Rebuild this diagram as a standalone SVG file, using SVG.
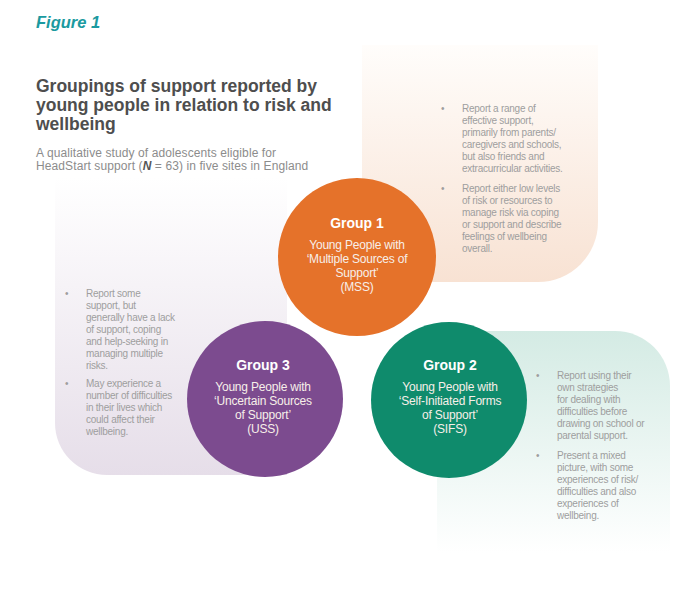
<svg xmlns="http://www.w3.org/2000/svg" width="690" height="610" viewBox="0 0 690 610">
  <style>
    .fig { font-family: "Liberation Sans", Arial, sans-serif; font-weight: bold; font-style: italic; font-size: 16.5px; fill: #1b9aa0; }
    .title { font-family: "Liberation Sans", Arial, sans-serif; font-weight: bold; font-size: 17.5px; fill: #4e4e4e; }
    .sub { font-family: "Liberation Sans", Arial, sans-serif; font-size: 12px; fill: #8c8c8c; letter-spacing: 0.1px; }
    .head { font-family: "Liberation Sans", Arial, sans-serif; font-weight: bold; font-size: 14px; fill: #ffffff; text-anchor: middle; }
    .lbl { font-family: "Liberation Sans", Arial, sans-serif; font-size: 12px; fill: #f7efe9; text-anchor: middle; letter-spacing: -0.2px; }
    .body { font-family: "Liberation Sans", Arial, sans-serif; font-size: 10px; fill: #9e9e9e; letter-spacing: -0.25px; }
  </style>
  <defs>
    <linearGradient id="gPurple" x1="0" y1="0" x2="0" y2="1">
      <stop offset="0" stop-color="#ffffff"/>
      <stop offset="1" stop-color="#e6dee9"/>
    </linearGradient>
    <linearGradient id="gPeach" x1="0" y1="0" x2="0" y2="1">
      <stop offset="0" stop-color="#fffdfb"/>
      <stop offset="1" stop-color="#f8e2d3"/>
    </linearGradient>
    <linearGradient id="gGreen" x1="0" y1="0" x2="0" y2="1">
      <stop offset="0" stop-color="#d4ebe4"/>
      <stop offset="0.92" stop-color="#ffffff"/>
      <stop offset="1" stop-color="#ffffff"/>
    </linearGradient>
  </defs>
  <rect width="690" height="610" fill="#ffffff"/>

  <text class="fig" x="36" y="28">Figure 1</text>
  <text class="title" x="36" y="92">Groupings of support reported by</text>
  <text class="title" x="36" y="111">young people in relation to risk and</text>
  <text class="title" x="36" y="130">wellbeing</text>
  <text class="sub" x="36" y="157">A qualitative study of adolescents eligible for</text>
  <text class="sub" x="36" y="170">HeadStart support (<tspan font-weight="bold" font-style="italic" fill="#555555">N</tspan> = 63) in five sites in England</text>

  <g id="panel-uss">
    <path d="M55,177 H287 V475 H107 A52,52 0 0 1 55,423 Z" fill="url(#gPurple)"/>
    <text class="body" x="65" y="297">•</text>
    <text class="body" x="86" y="297">Report some</text>
    <text class="body" x="86" y="309">support, but</text>
    <text class="body" x="86" y="321">generally have a lack</text>
    <text class="body" x="86" y="333">of support, coping</text>
    <text class="body" x="86" y="345">and help-seeking in</text>
    <text class="body" x="86" y="357">managing multiple</text>
    <text class="body" x="86" y="369">risks.</text>
    <text class="body" x="65" y="387">•</text>
    <text class="body" x="86" y="387">May experience a</text>
    <text class="body" x="86" y="399">number of difficulties</text>
    <text class="body" x="86" y="411">in their lives which</text>
    <text class="body" x="86" y="423">could affect their</text>
    <text class="body" x="86" y="435">wellbeing.</text>
  </g>

  <g id="panel-mss">
    <path d="M362,45 H598 V222 A60,60 0 0 1 538,282 H362 Z" fill="url(#gPeach)"/>
    <text class="body" x="441" y="112">•</text>
    <text class="body" x="462" y="112">Report a range of</text>
    <text class="body" x="462" y="124">effective support,</text>
    <text class="body" x="462" y="136">primarily from parents/</text>
    <text class="body" x="462" y="148">caregivers and schools,</text>
    <text class="body" x="462" y="160">but also friends and</text>
    <text class="body" x="462" y="172">extracurricular activities.</text>
    <text class="body" x="441" y="192">•</text>
    <text class="body" x="462" y="192">Report either low levels</text>
    <text class="body" x="462" y="204">of risk or resources to</text>
    <text class="body" x="462" y="216">manage risk via coping</text>
    <text class="body" x="462" y="228">or support and describe</text>
    <text class="body" x="462" y="240">feelings of wellbeing</text>
    <text class="body" x="462" y="252">overall.</text>
  </g>

  <g id="panel-sifs">
    <path d="M437,331 H615 A55,55 0 0 1 670,386 V572 H437 Z" fill="url(#gGreen)"/>
    <text class="body" x="536" y="379">•</text>
    <text class="body" x="557" y="379">Report using their</text>
    <text class="body" x="557" y="391">own strategies</text>
    <text class="body" x="557" y="403">for dealing with</text>
    <text class="body" x="557" y="415">difficulties before</text>
    <text class="body" x="557" y="427">drawing on school or</text>
    <text class="body" x="557" y="439">parental support.</text>
    <text class="body" x="536" y="459">•</text>
    <text class="body" x="557" y="459">Present a mixed</text>
    <text class="body" x="557" y="471">picture, with some</text>
    <text class="body" x="557" y="483">experiences of risk/</text>
    <text class="body" x="557" y="495">difficulties and also</text>
    <text class="body" x="557" y="507">experiences of</text>
    <text class="body" x="557" y="519">wellbeing.</text>
  </g>

  <g id="group1">
    <circle cx="357" cy="257" r="79" fill="#e5722a"/>
    <text class="head" x="357" y="228">Group 1</text>
    <text class="lbl" x="357" y="249">Young People with</text>
    <text class="lbl" x="357" y="263">‘Multiple Sources of</text>
    <text class="lbl" x="357" y="277">Support’</text>
    <text class="lbl" x="357" y="291">(MSS)</text>
  </g>

  <g id="group3">
    <circle cx="265" cy="399" r="78" fill="#7c4b8f"/>
    <text class="head" x="263" y="370">Group 3</text>
    <text class="lbl" x="263" y="391">Young People with</text>
    <text class="lbl" x="263" y="405">‘Uncertain Sources</text>
    <text class="lbl" x="263" y="419">of Support’</text>
    <text class="lbl" x="263" y="433">(USS)</text>
  </g>

  <g id="group2">
    <circle cx="449" cy="400" r="78" fill="#0f8b6c"/>
    <text class="head" x="450" y="370">Group 2</text>
    <text class="lbl" x="450" y="391">Young People with</text>
    <text class="lbl" x="450" y="405">‘Self-Initiated Forms</text>
    <text class="lbl" x="450" y="419">of Support’</text>
    <text class="lbl" x="450" y="433">(SIFS)</text>
  </g>
</svg>
